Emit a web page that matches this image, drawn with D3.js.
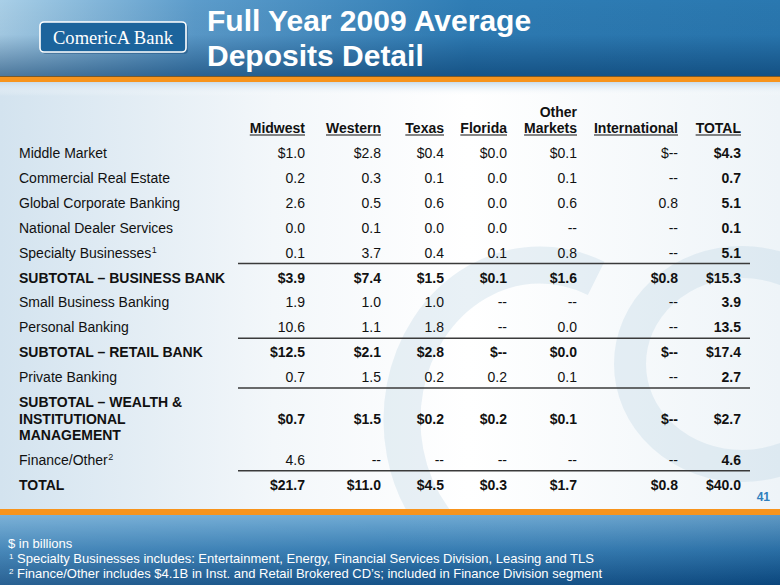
<!DOCTYPE html>
<html>
<head>
<meta charset="utf-8">
<script src="https://cdn.jsdelivr.net/npm/d3@7"></script>
<style>
html,body{margin:0;padding:0;background:#fff;}
svg{display:block;font-family:"Liberation Sans",Arial,sans-serif;}
</style>
</head>
<body>
<svg id="chart" width="780" height="585"></svg>
<script>
// ---- data ----
const titleLines = ["Full Year 2009 Average", "Deposits Detail"];
const regions = ["Midwest", "Western", "Texas", "Florida", "Other Markets", "International", "TOTAL"];
const rowLabels = [
  ["Middle Market"],
  ["Commercial Real Estate"],
  ["Global Corporate Banking"],
  ["National Dealer Services"],
  ["Specialty Businesses", "1"],
  ["SUBTOTAL \u2013 BUSINESS BANK"],
  ["Small Business Banking"],
  ["Personal Banking"],
  ["SUBTOTAL \u2013 RETAIL BANK"],
  ["Private Banking"],
  ["SUBTOTAL \u2013 WEALTH &", "INSTITUTIONAL", "MANAGEMENT"],
  ["Finance/Other", "2"],
  ["TOTAL"]
];
const rowIsSubtotal = [false,false,false,false,false,true,false,false,true,false,true,false,true];
const rowHasDollar  = [true,false,false,false,false,true,false,false,true,false,true,false,true];
const rowRuleAbove  = [false,false,false,false,false,true,false,false,true,false,true,false,true];
// values per region (null = "--")
const midwest       = [1.0, 0.2, 2.6, 0.0, 0.1, 3.9, 1.9, 10.6, 12.5, 0.7, 0.7, 4.6, 21.7];
const western       = [2.8, 0.3, 0.5, 0.1, 3.7, 7.4, 1.0, 1.1, 2.1, 1.5, 1.5, null, 11.0];
const texas         = [0.4, 0.1, 0.6, 0.0, 0.4, 1.5, 1.0, 1.8, 2.8, 0.2, 0.2, null, 4.5];
const florida       = [0.0, 0.0, 0.0, 0.0, 0.1, 0.1, null, null, null, 0.2, 0.2, null, 0.3];
const otherMarkets  = [0.1, 0.1, 0.6, null, 0.8, 1.6, null, 0.0, 0.0, 0.1, 0.1, null, 1.7];
const international = [null, null, 0.8, null, null, 0.8, null, null, null, null, null, null, 0.8];
const total         = [4.3, 0.7, 5.1, 0.1, 5.1, 15.3, 3.9, 13.5, 17.4, 2.7, 2.7, 4.6, 40.0];
const columns = [midwest, western, texas, florida, otherMarkets, international, total];
const footnotes = [
  ["", "$ in billions"],
  ["1", "Specialty Businesses includes: Entertainment, Energy, Financial Services Division, Leasing and TLS"],
  ["2", "Finance/Other includes $4.1B in Inst. and Retail Brokered CD\u2019s; included in Finance Division segment"]
];
const pageNumber = "41";

// ---- drawing ----
const svg = d3.select("#chart");
const W = 780, H = 585;
const defs = svg.append("defs");

function lin(id, x1, y1, x2, y2, stops) {
  const g = defs.append("linearGradient").attr("id", id)
    .attr("x1", x1).attr("y1", y1).attr("x2", x2).attr("y2", y2);
  stops.forEach(s => g.append("stop").attr("offset", s[0]).attr("stop-color", s[1]).attr("stop-opacity", s[2] == null ? 1 : s[2]));
}
lin("bgH", 0, 0, 1, 0, [[0, "#d3e3ef"], [0.35, "#f3f7fa"], [0.6, "#ffffff"], [1, "#eef4f8"]]);
lin("hdrH", 0, 0, 1, 0, [[0, "#a9cfe7"], [0.25, "#5c9ccb"], [0.6, "#2f7db5"], [1, "#2a78b0"]]);
lin("hdrV", 0, 0, 0, 1, [[0, "#000", 0], [0.45, "#002a5a", 0.05], [1, "#00305e", 0.55]]);
lin("ftrV", 0, 0, 0, 1, [[0, "#6aa7d2"], [0.5, "#2f78b0"], [1, "#0c4b83"]]);
lin("ftrH", 0, 0, 1, 0, [[0, "#ffffff", 0.12], [0.5, "#ffffff", 0.04], [1, "#001a40", 0.1]]);
lin("shadow", 0, 0, 0, 1, [[0, "#c9dceb"], [1, "#ffffff", 0]]);

// background
svg.append("rect").attr("width", W).attr("height", H).attr("fill", "url(#bgH)");
// watermark: "C" arc and "o" ring
const wm = svg.append("g").attr("fill", "none").attr("stroke", "#bcd3e4").attr("stroke-opacity", 0.32);
(function () {
  const cx = 540, cy = 420, rx = 138, ry = 155;
  const a0 = -66 * Math.PI / 180, a1 = 90 * Math.PI / 180;
  const p0 = [cx + rx * Math.cos(a0), cy + ry * Math.sin(a0)];
  const p1 = [cx + rx * Math.cos(a1), cy + ry * Math.sin(a1)];
  wm.append("path").attr("stroke-width", 37)
    .attr("d", `M${p0[0]},${p0[1]} A${rx},${ry} 0 1 0 ${p1[0]},${p1[1]}`);
})();
wm.append("ellipse").attr("cx", 742).attr("cy", 364).attr("rx", 112).attr("ry", 102).attr("stroke-width", 32);

// header
svg.append("rect").attr("width", W).attr("height", 77).attr("fill", "url(#hdrH)");
svg.append("rect").attr("width", W).attr("height", 77).attr("fill", "url(#hdrV)");
svg.append("rect").attr("y", 76).attr("width", W).attr("height", 1).attr("fill", "#7a5a2a");
svg.append("rect").attr("y", 77).attr("width", W).attr("height", 5).attr("fill", "#f7941d");
svg.append("rect").attr("y", 82).attr("width", W).attr("height", 14).attr("fill", "url(#shadow)");

// logo
const logo = svg.append("g");
logo.append("rect").attr("x", 42).attr("y", 24).attr("width", 146).attr("height", 30).attr("rx", 4)
  .attr("fill", "#0a3c6c").attr("opacity", 0.35);
logo.append("rect").attr("x", 40).attr("y", 22).attr("width", 146).attr("height", 30).attr("rx", 4)
  .attr("fill", "#1c649c").attr("stroke", "#ffffff").attr("stroke-width", 1.6);
logo.append("text").attr("x", 113).attr("y", 44).attr("text-anchor", "middle")
  .attr("font-family", "'Liberation Serif','DejaVu Serif',serif").attr("font-size", 19)
  .attr("fill", "#fff").attr("textLength", 120).attr("lengthAdjust", "spacingAndGlyphs")
  .text("ComericA Bank");

// title
svg.append("g").selectAll("text").data(titleLines).join("text")
  .attr("x", 207).attr("y", (d, i) => 31 + i * 35)
  .attr("font-size", 30).attr("font-weight", "bold").attr("fill", "#fff")
  .text(d => d);

// footer
svg.append("rect").attr("y", 509).attr("width", W).attr("height", 6).attr("fill", "#f7941d");
svg.append("rect").attr("y", 515).attr("width", W).attr("height", 70).attr("fill", "url(#ftrV)");
svg.append("rect").attr("y", 515).attr("width", W).attr("height", 70).attr("fill", "url(#ftrH)");
const fn = svg.append("g").attr("fill", "#fff").attr("font-size", 13);
footnotes.forEach((f, i) => {
  const y = 548 + i * 15;
  if (f[0]) fn.append("text").attr("x", 9).attr("y", y - 4).attr("font-size", 8).text(f[0]);
  fn.append("text").attr("x", f[0] ? 17 : 8).attr("y", y).text(f[1]);
});
svg.append("text").attr("x", 770).attr("y", 501).attr("text-anchor", "end")
  .attr("font-size", 12).attr("font-weight", "bold").attr("fill", "#2f7fbd").text(pageNumber);

// table
const xCol = d3.scaleOrdinal().domain(regions).range([305, 381, 444, 507, 577, 678, 741]);
const rowStep = 24.9, lineStep = 16.5;
const rowY = [];
let yAcc = 158;
rowLabels.forEach((lab, i) => {
  if (i > 0) {
    const prevExtra = (rowLabels[i - 1].length === 3) ? lineStep : 0;
    const curExtra = (lab.length === 3) ? lineStep : 0;
    yAcc += rowStep + prevExtra + curExtra;
  }
  rowY.push(yAcc);
});

const tbl = svg.append("g").attr("font-size", 14).attr("fill", "#111");

// column headers
regions.forEach(r => {
  const parts = r === "Other Markets" ? ["Other", "Markets"] : [r];
  parts.forEach((p, j) => {
    const t = tbl.append("text").attr("x", xCol(r)).attr("y", 133 - (parts.length - 1 - j) * 16)
      .attr("text-anchor", "end").attr("font-weight", "bold").text(p);
    if (j === parts.length - 1) {
      const w = t.node().getComputedTextLength();
      tbl.append("line").attr("x1", xCol(r) - w).attr("x2", xCol(r))
        .attr("y1", 135).attr("y2", 135).attr("stroke", "#111").attr("stroke-width", 1.2);
    }
  });
});

// rules
rowLabels.forEach((lab, i) => {
  if (!rowRuleAbove[i]) return;
  const yTop = rowY[i] - (lab.length === 3 ? lineStep : 0) - 19;
  tbl.append("line").attr("x1", 238).attr("x2", 750).attr("y1", yTop).attr("y2", yTop)
    .attr("stroke", "#3a3a3a").attr("stroke-width", 1.6);
});

// row labels
rowLabels.forEach((lab, i) => {
  const bold = rowIsSubtotal[i];
  if (lab.length === 2) {
    const t = tbl.append("text").attr("x", 19).attr("y", rowY[i]).text(lab[0]);
    const w = t.node().getComputedTextLength();
    tbl.append("text").attr("x", 19 + w + 0.5).attr("y", rowY[i] - 5).attr("font-size", 9).text(lab[1]);
  } else {
    lab.forEach((l, j) => {
      tbl.append("text").attr("x", 19)
        .attr("y", rowY[i] + (j - (lab.length - 1) / 2) * lineStep)
        .attr("font-weight", bold ? "bold" : "normal").text(l);
    });
  }
});

// values
const fmt = d3.format(".1f");
columns.forEach((col, c) => {
  const r = regions[c];
  tbl.append("g").selectAll("text").data(col).join("text")
    .attr("x", xCol(r)).attr("y", (d, i) => rowY[i])
    .attr("text-anchor", "end")
    .attr("font-weight", (d, i) => (rowIsSubtotal[i] || r === "TOTAL") ? "bold" : "normal")
    .text((d, i) => (rowHasDollar[i] ? "$" : "") + (d == null ? "--" : fmt(d)));
});
</script>
</body>
</html>
